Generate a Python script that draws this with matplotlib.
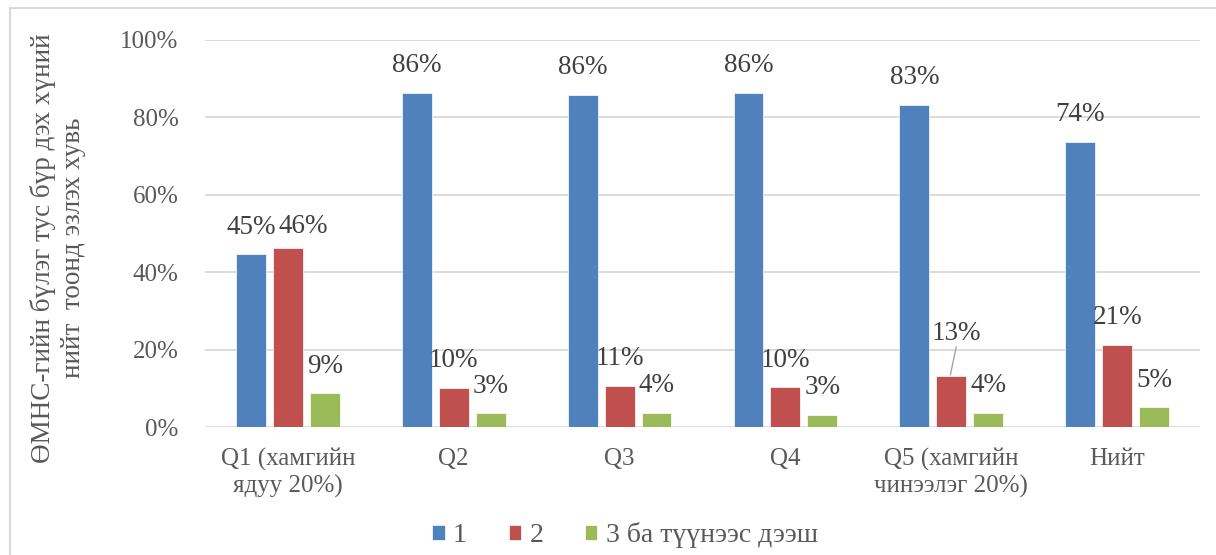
import matplotlib
matplotlib.use("Agg")
import matplotlib.pyplot as plt
import numpy as np
from matplotlib.patches import Rectangle

plt.rcParams['font.family'] = ['Liberation Serif', 'DejaVu Serif']

categories = ["Q1 (хамгийн\nядуу 20%)", "Q2", "Q3", "Q4", "Q5 (хамгийн\nчинээлэг 20%)", "Нийт"]
series_names = ["1", "2", "3 ба түүнээс дээш"]
vals_1 = [44.6, 86.3, 85.9, 86.3, 83.2, 73.7]
vals_2 = [46.2, 10.1, 10.6, 10.3, 13.2, 21.3]
vals_3 = [8.7, 3.5, 3.7, 3.2, 3.7, 5.1]
labels_1 = ["45%", "86%", "86%", "86%", "83%", "74%"]
labels_2 = ["46%", "10%", "11%", "10%", "13%", "21%"]
labels_3 = ["9%", "3%", "4%", "3%", "4%", "5%"]
colors = ["#4F81BD", "#C0504D", "#9BBB59"]
ytick_labels = ["0%", "20%", "40%", "60%", "80%", "100%"]
ylabel = "ӨМНС-гийн бүлэг тус бүр дэх хүний\nнийт  тоонд эзлэх хувь"

FS = 18

fig = plt.figure(figsize=(12.16, 5.55), dpi=100)
# outer chart frame
fig.patches.append(Rectangle((10/1216, -0.01), 1.02, (555-8)/555 + 0.01,
                             transform=fig.transFigure, fill=False,
                             edgecolor="#D9D9D9", linewidth=1.5))

ax = fig.add_axes([205/1216, 1-427/555, 995/1216, (427-40)/555])
x = np.arange(len(categories))
w = 0.18
off = 0.223
series = [vals_1, vals_2, vals_3]
labs = [labels_1, labels_2, labels_3]
for i, (vals, col) in enumerate(zip(series, colors)):
    ax.bar(x + (i-1)*off, vals, width=w, color=col, label=series_names[i], zorder=3,
           edgecolor="white", linewidth=0.5)

ax.set_xlim(-0.5, len(categories)-0.5)
ax.set_ylim(0, 100)
ax.set_yticks([0, 20, 40, 60, 80, 100])
ax.set_yticklabels(ytick_labels)
ax.set_xticks(x)
ax.set_xticklabels(categories, linespacing=1.25)
ax.tick_params(axis='both', length=0, labelsize=FS, colors="#595959")
ax.tick_params(axis='y', pad=19)
ax.tick_params(axis='x', pad=15)
ax.grid(axis='y', color="#D9D9D9", linewidth=1.3, zorder=0)
for s in ax.spines.values():
    s.set_visible(False)

# data labels
label_off = 7.0  # in % units above bar top
for i, (vals, lbl) in enumerate(zip(series, labs)):
    for j, (v, t) in enumerate(zip(vals, lbl)):
        xx = j + (i-1)*off
        yy = v + label_off
        if j == 0 and i == 1:
            xx += 0.09
            yy = vals_1[0] + label_off + 0.2
        if j == 4 and i == 1:
            yy = v + 11.0
            ax.plot([xx - 0.005, xx + 0.03], [v + 0.3, v + 7.5], color="#A6A6A6",
                    linewidth=1, zorder=4)
            xx += 0.03
        ax.text(xx, yy, t, ha='center', va='center', fontsize=19.5, color="#404040", zorder=5)

fig.text(58/1216, 1-248/555, ylabel, rotation=90, ha='center', va='center',
         rotation_mode='anchor', multialignment='center',
         fontsize=19.5, color="#595959", linespacing=1.3)

leg = fig.legend(loc='center', bbox_to_anchor=(625/1216, 1-535/555), ncol=3, frameon=False,
                 fontsize=20, handlelength=0.45, handleheight=0.45, handletextpad=0.3,
                 columnspacing=1.5)
for t in leg.get_texts():
    t.set_color("#595959")

fig.savefig("out.png", dpi=100)
